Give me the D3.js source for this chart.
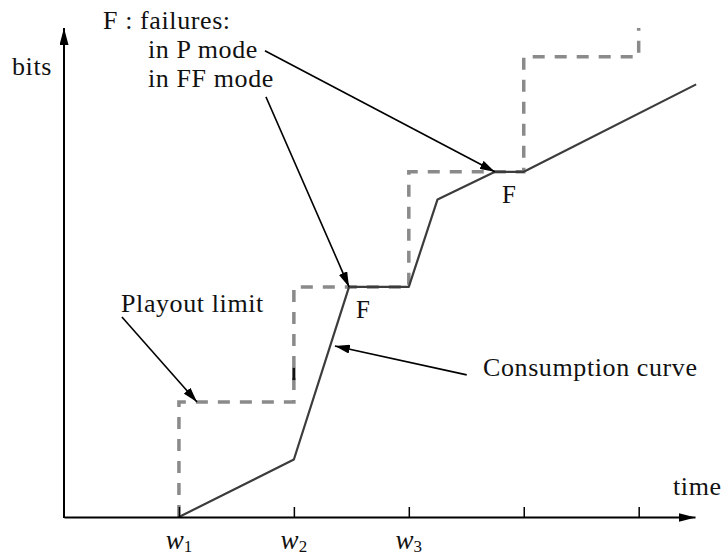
<!DOCTYPE html>
<html>
<head>
<meta charset="utf-8">
<script src="https://cdn.jsdelivr.net/npm/d3@7"></script>
<style>
  html, body { margin: 0; padding: 0; background: #fff; }
  svg { display: block; }
</style>
</head>
<body>
<svg id="chart" width="723" height="557"></svg>
<script>
// ---- data (time units, bits units) ----
const tickTimes = [1, 2, 3, 4, 5];
const tickSubs = ["1", "2", "3", "", ""];
const playoutT = [1, 1, 2, 2, 3, 3, 4, 4, 5, 5];
const playoutB = [0, 1, 1, 2, 2, 3, 3, 4, 4, 4.25];
const consumeT = [1, 2, 2.48, 3, 3.25, 3.75, 4, 5.5];
const consumeB = [0, 0.5, 2, 2, 2.76, 3, 3, 3.76];
const failureT = [2.48, 3.75];
const failureB = [2, 3];
const axisMaxT = 5.49;
const axisMaxB = 4.25;
// annotation arrows: tail (t,b) -> head (t,b)
const arrowTailT = [1.748, 1.757, 0.504, 3.504];
const arrowTailB = [4.052, 3.652, 1.739, 1.235];
const arrowHeadT = [3.748, 2.48, 1.157, 2.357];
const arrowHeadB = [3.0, 2.0, 1.0, 1.487];

const FONT = "'Liberation Serif', 'DejaVu Serif', 'Times New Roman', serif";

const svg = d3.select("#chart");
const x = d3.scaleLinear().domain([0, axisMaxT]).range([64, 695]);
const y = d3.scaleLinear().domain([0, axisMaxB]).range([517, 28]);

const defs = svg.append("defs");
function marker(id, len, half) {
  defs.append("marker")
    .attr("id", id)
    .attr("markerUnits", "userSpaceOnUse")
    .attr("viewBox", `0 ${-half} ${len} ${half * 2}`)
    .attr("refX", len).attr("refY", 0)
    .attr("markerWidth", len).attr("markerHeight", half * 2)
    .attr("orient", "auto")
    .append("path")
    .attr("d", `M0,${-half}L${len},0L0,${half}Z`)
    .attr("fill", "#000");
}
marker("axisHead", 17, 4.5);
marker("annHead", 15, 4.5);

// playout limit (dashed staircase)
const line = d3.line().x(d => x(d[0])).y(d => y(d[1]));
const playout = playoutT.map((t, i) => [t, playoutB[i]]);
svg.append("path")
  .attr("d", line(playout))
  .attr("fill", "none")
  .attr("stroke", "#8a8a8a")
  .attr("stroke-width", 3.5)
  .attr("stroke-dasharray", "12,10");

// small dark artefact on the w2 riser
svg.append("line")
  .attr("x1", x(2)).attr("x2", x(2))
  .attr("y1", y(1.19)).attr("y2", y(1.296))
  .attr("stroke", "#111").attr("stroke-width", 3);

// consumption curve
const consume = consumeT.map((t, i) => [t, consumeB[i]]);
svg.append("path")
  .attr("d", line(consume))
  .attr("fill", "none")
  .attr("stroke", "#3c3c3c")
  .attr("stroke-width", 2.2)
  .attr("stroke-linejoin", "round");

// x axis with upward ticks
const xAxis = d3.axisBottom(x)
  .tickValues(tickTimes)
  .tickSize(-10)
  .tickSizeOuter(0)
  .tickFormat("");
const gx = svg.append("g").attr("transform", `translate(0,${y(0)})`).call(xAxis);
gx.select(".domain").attr("stroke", "#000").attr("stroke-width", 2)
  .attr("marker-end", "url(#axisHead)");
gx.selectAll(".tick line").attr("stroke", "#000").attr("stroke-width", 1.5);

// y axis
svg.append("line")
  .attr("x1", x(0)).attr("x2", x(0))
  .attr("y1", y(0) + 1).attr("y2", y(axisMaxB))
  .attr("stroke", "#000").attr("stroke-width", 2)
  .attr("marker-end", "url(#axisHead)");

// tick labels w_i
tickTimes.forEach((t, i) => {
  if (!tickSubs[i]) return;
  const tx = svg.append("text")
    .attr("x", x(t)).attr("y", 549)
    .attr("text-anchor", "middle")
    .style("font-family", FONT).attr("fill", "#111");
  tx.append("tspan").text("w").style("font-style", "italic").style("font-size", "27px");
  tx.append("tspan").text(tickSubs[i]).attr("dy", 3).style("font-size", "17px");
});

// annotation arrows
arrowTailT.forEach((t, i) => {
  svg.append("line")
    .attr("x1", x(t)).attr("y1", y(arrowTailB[i]))
    .attr("x2", x(arrowHeadT[i])).attr("y2", y(arrowHeadB[i]))
    .attr("stroke", "#000").attr("stroke-width", 1.6)
    .attr("marker-end", "url(#annHead)");
});

// texts
function label(px, py, s) {
  return svg.append("text").attr("x", px).attr("y", py)
    .style("font-family", FONT).style("font-size", "26px")
    .style("letter-spacing", "0.6px").attr("fill", "#111").text(s);
}
label(12, 75, "bits");
label(673, 495, "time");
label(103, 29, "F : failures:");
label(148, 58, "in P mode");
label(148, 87, "in FF mode");
label(121, 312, "Playout limit");
label(483, 376, "Consumption curve");

// F labels near failure points
failureT.forEach((t, i) => {
  svg.append("text")
    .attr("x", x(t) + 14).attr("y", y(failureB[i]) + 31)
    .attr("text-anchor", "middle")
    .style("font-family", FONT)
    .style("font-size", "25px").attr("fill", "#111")
    .text("F");
});
</script>
</body>
</html>
